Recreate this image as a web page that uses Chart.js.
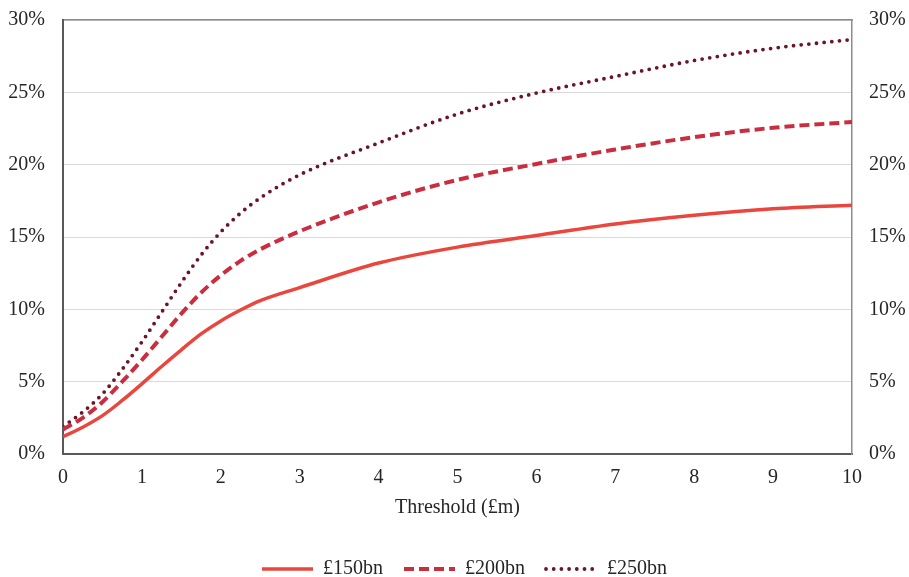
<!DOCTYPE html>
<html>
<head>
<meta charset="utf-8">
<script src="https://cdn.jsdelivr.net/npm/chart.js@4"></script>
<style>
  html, body { margin: 0; padding: 0; background: #fff; }
  #wrap { width: 909px; height: 577px; }
</style>
</head>
<body>
<div id="wrap"><canvas id="myChart" width="909" height="577"></canvas></div>
<script>
const thresholds = [0, 0.25, 0.5, 0.75, 1, 1.25, 1.5, 1.75, 2, 2.25, 2.5, 3, 4, 5, 6, 7, 8, 9, 10];
const bn150 = [1.2, 1.85, 2.65, 3.7, 4.85, 6.05, 7.2, 8.3, 9.2, 9.95, 10.6, 11.5, 13.2, 14.3, 15.1, 15.9, 16.5, 16.95, 17.2];
const bn200 = [1.7, 2.5, 3.6, 5.0, 6.5, 8.1, 9.7, 11.15, 12.35, 13.35, 14.15, 15.4, 17.4, 18.95, 20.05, 21.05, 21.9, 22.55, 22.95];
const bn250 = [1.9, 2.9, 4.15, 5.85, 7.75, 9.8, 11.85, 13.75, 15.35, 16.65, 17.7, 19.3, 21.5, 23.5, 24.95, 26.1, 27.2, 28.05, 28.65];
const seriesLabels = ['£150bn', '£200bn', '£250bn'];
const xTitle = 'Threshold (£m)';

const font = { family: "'Liberation Serif', 'Times New Roman', serif", size: 20 };
const pts = (vals) => vals.map((v, i) => ({ x: thresholds[i], y: v }));
const pct = (v) => v + '%';

// y labels shouldn't push the plot down
const noPad = (s) => { s.paddingTop = 0; s.paddingBottom = 0; };

// legend samples should carry each line's dash pattern
const legendLabels = (c) => Chart.defaults.plugins.legend.labels.generateLabels(c).map((item, i) => {
  const ds = c.data.datasets[i];
  return {
    ...item,
    strokeStyle: ds.borderColor,
    lineWidth: ds.borderWidth,
    lineDash: ds.borderDash || [],
    lineCap: ds.borderCapStyle,
  };
});

// nudge the legend to sit where the original has it
const legendShift = {
  id: 'legendShift',
  afterLayout(c) {
    c.legend.left += 10;
    c.legend.right += 10;
  },
};

const ctx = document.getElementById('myChart').getContext('2d');
const myChart = new Chart(ctx, {
  type: 'line',
  data: {
    datasets: [{
      label: seriesLabels[0],
      data: pts(bn150),
      borderColor: '#E9473D',
      backgroundColor: '#E9473D',
      borderWidth: 3.5,
      borderCapStyle: 'butt',
    }, {
      label: seriesLabels[1],
      data: pts(bn200),
      borderColor: '#C92E40',
      backgroundColor: '#C92E40',
      borderWidth: 4,
      borderDash: [10, 5],
      borderCapStyle: 'butt',
    }, {
      label: seriesLabels[2],
      data: pts(bn250),
      borderColor: '#6C1427',
      backgroundColor: '#6C1427',
      borderWidth: 3.8,
      borderDash: [0, 7.7],
      borderCapStyle: 'round',
    }],
  },
  options: {
    responsive: false,
    animation: false,
    layout: { padding: { left: 0, right: 0, top: 0, bottom: -12 } },
    elements: {
      point: { radius: 0 },
      line: { cubicInterpolationMode: 'monotone' },
    },
    plugins: {
      tooltip: { enabled: false },
      legend: {
        position: 'bottom',
        labels: {
          font,
          color: '#262626',
          usePointStyle: true,
          pointStyle: 'line',
          pointStyleWidth: 51,
          padding: 21,
          generateLabels: legendLabels,
        },
      },
    },
    scales: {
      x: {
        type: 'linear',
        position: 'bottom',
        min: 0,
        max: 10,
        afterFit: (s) => { s.height = 84; },
        ticks: { stepSize: 1, font, color: '#262626', padding: 12 },
        grid: { display: false, drawTicks: false },
        border: { color: '#595959', width: 2 },
        title: { display: true, text: xTitle, font, color: '#262626', padding: { top: 0, bottom: 18 } },
      },
      x2: {
        type: 'linear',
        position: 'top',
        min: 0,
        max: 10,
        afterFit: (s) => { s.height = 20; },
        ticks: { display: false },
        grid: { display: false, drawTicks: false },
        border: { color: '#8C8C8C', width: 1.5 },
      },
      y: {
        position: 'left',
        min: 0,
        max: 30,
        afterFit: (s) => { s.width = 63; noPad(s); },
        ticks: { stepSize: 5, font, color: '#262626', padding: 18, callback: pct },
        grid: { color: '#D9D9D9', lineWidth: 1, drawTicks: false },
        border: { color: '#595959', width: 2 },
      },
      y2: {
        position: 'right',
        min: 0,
        max: 30,
        afterFit: (s) => { s.width = 57; noPad(s); },
        ticks: { stepSize: 5, font, color: '#262626', padding: 17, callback: pct },
        grid: { display: false, drawTicks: false },
        border: { color: '#8C8C8C', width: 1.5 },
      },
    },
  },
  plugins: [legendShift],
});
</script>
</body>
</html>
